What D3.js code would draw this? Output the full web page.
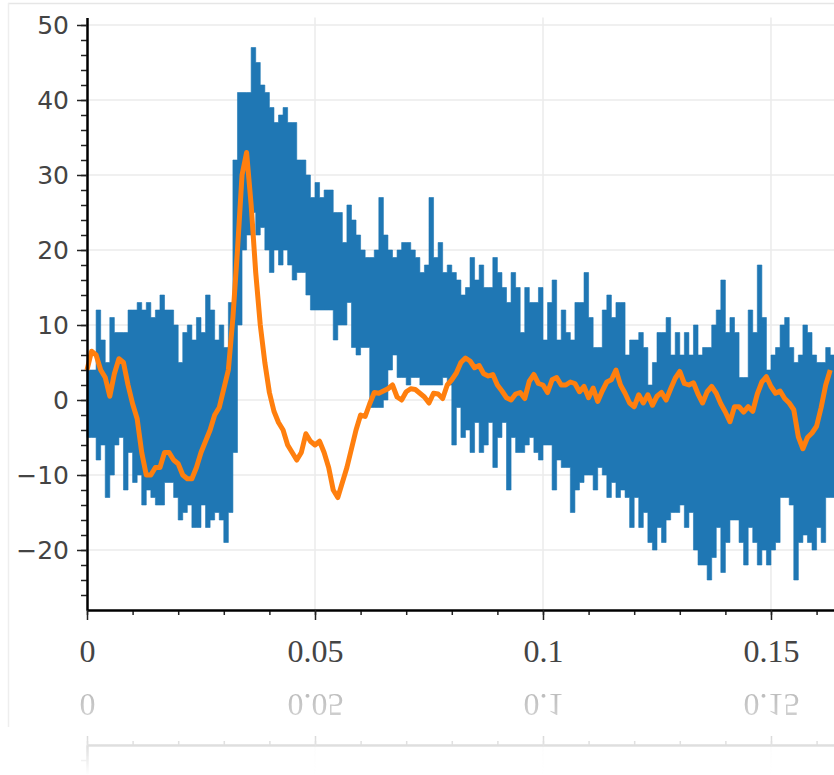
<!DOCTYPE html>
<html>
<head>
<meta charset="utf-8">
<script src="https://cdn.jsdelivr.net/npm/d3@7"></script>
<style>
  body { margin: 0; background: #fff; overflow: hidden; }
  svg { display: block; }
</style>
</head>
<body>
<svg id="vis" width="834" height="775"></svg>
<script>
// sample spacing of the signal (seconds)
const dt = 0.001;

// raw signal, drawn as its upper / lower envelope per sample
const blueHigh = [
  4, 4, 12, 8, 5, 11, 9, 9, 9, 12, 12, 13, 12, 13, 11, 12, 14, 12, 12, 10,
  5, 9, 10, 8, 11, 9, 14, 12, 8, 10, 7, 13, 32, 41, 41, 41, 47, 45, 42, 41,
  39, 37, 38, 39, 37, 37, 32, 32, 30, 27, 29, 27, 28, 28, 25, 25, 21, 26, 24, 22,
  20, 19, 19, 20, 27, 22, 20, 19, 20, 21, 21, 20, 19, 17, 18, 27, 19, 21, 17, 18,
  17, 16, 14, 15, 19, 16, 18, 15, 15, 19, 17, 15, 13, 17, 15, 9, 15, 13, 13, 15,
  8, 13, 16, 8, 12, 9, 8, 13, 13, 17, 11, 7, 7, 12, 14, 11, 13, 13, 6, 8,
  8, 9, 7, 2, 5, 9, 9, 11, 6, 9, 6, 9, 6, 10, 6, 7, 7, 10, 12, 16,
  9, 11, 9, 3, 3, 12, 9, 18, 11, 4, 6, 7, 10, 11, 7, 5, 6, 10, 9, 6,
  5, 5, 7, 6
];
const blueLow = [
  -5, -5, -8, -6, -13, -10, -6, -5, -12, -7, -11, -10, -14, -12, -13, -14, -14, -11, -11, -13,
  -16, -15, -14, -17, -17, -14, -17, -16, -15, -16, -19, -15, -7, 10, 20, 22, 25, 22, 23, 20,
  17, 20, 18, 20, 18, 16, 17, 17, 14, 12, 12, 12, 12, 12, 8, 10, 10, 13, 7, 6,
  7, 7, -1, -1, -1, 0, 4, 6, 3, 3, 2, 3, 3, 2, 2, 2, 2, 2, 3, 2,
  -6, -1, -5, -4, -7, -3, -7, -6, -3, -9, -5, -3, -12, -5, -7, -7, -6, -5, -7, -8,
  -6, -6, -12, -8, -9, -9, -15, -12, -11, -10, -10, -12, -9, -10, -13, -11, -13, -12, -13, -17,
  -13, -17, -15, -19, -20, -17, -19, -16, -15, -15, -14, -17, -15, -20, -22, -22, -24, -21, -17, -23,
  -19, -16, -16, -19, -22, -17, -19, -22, -20, -22, -20, -19, -13, -13, -14, -24, -19, -18, -19, -20,
  -17, -19, -13, -13
];

// smoothed signal
const orangeVals = [
  4, 6.5, 6, 4, 3, 0.5, 3.5, 5.5, 5, 2, -0.5, -2.5, -7, -10, -10, -9, -9, -7, -7, -8,
  -8.5, -10, -10.5, -10.5, -9, -7, -5.5, -4, -2, -1, 1.5, 4, 11, 20, 30, 33, 26, 17, 10, 5,
  1, -1.5, -3, -4, -6, -7, -8, -7, -4.5, -5.5, -6, -5.5, -7, -9, -12, -13, -11, -9, -6.5, -4,
  -2, -2.2, -0.5, 1, 0.9, 1.2, 1.5, 2, 0.4, 0, 1.1, 1.5, 1.4, 0.9, 0.4, -0.4, 0.9, 0.8, 0.2, 2,
  2.7, 3.6, 5, 5.6, 5.2, 4.3, 4.6, 3.5, 3.2, 3.4, 2, 1.2, 0.3, 0, 0.8, 1, 0.2, 2.5, 3.4, 2.2,
  2, 1, 2.7, 3, 2, 2, 2.4, 2.2, 1.1, 1.8, 0.3, 1.6, -0.2, 1.2, 2.4, 2.7, 4, 2, 0.9, -0.4,
  -0.9, 0.7, -0.4, 0.7, -0.7, 0.5, 1, 0, 1.5, 2.9, 3.8, 2.2, 2, 2.3, 0.8, -0.4, 1.1, 1.8, 0.9, -0.5,
  -1.6, -2.9, -0.9, -0.9, -1.6, -0.9, -1.5, 0.8, 2.4, 3.1, 1.8, 0.9, 1.2, 0.2, -0.4, -1.3, -4.9, -6.5, -5, -4.4,
  -3.5, -1, 2, 4
];

// ticks
const yMajor = [-20, -10, 0, 10, 20, 30, 40, 50];
const yLabels = ['\u221220', '\u221210', '0', '10', '20', '30', '40', '50'];
const yMinor = d3.range(-26, 51, 2);
const xMajor = [0, 0.05, 0.1, 0.15];
const xLabels = ['0', '0.05', '0.1', '0.15'];
const xMinor = d3.range(0, 0.1635, 0.01);

const svg = d3.select('#vis');
const plotLeft = 87, plotRight = 834, plotTop = 17.5, plotBottom = 610;

const x = d3.scaleLinear().domain([0, 0.16382]).range([plotLeft, plotRight]);
const y = d3.scaleLinear().domain([-28, 51]).range([plotBottom, plotTop]);

// reflection fade
const defs = svg.append('defs');
const grad = defs.append('linearGradient')
  .attr('id', 'fadeGrad')
  .attr('gradientUnits', 'userSpaceOnUse')
  .attr('x1', 0).attr('x2', 0).attr('y1', 678).attr('y2', 775);
grad.append('stop').attr('offset', 0).attr('stop-color', '#fff').attr('stop-opacity', 0.42);
grad.append('stop').attr('offset', 1).attr('stop-color', '#fff').attr('stop-opacity', 0);
defs.append('mask')
  .attr('id', 'fade')
  .attr('maskUnits', 'userSpaceOnUse')
  .attr('x', 0).attr('y', 0).attr('width', 834).attr('height', 775)
  .append('rect')
  .attr('x', 0).attr('y', 678).attr('width', 834).attr('height', 97)
  .attr('fill', 'url(#fadeGrad)');

// card frame
svg.append('line')
  .attr('x1', 8).attr('x2', 834).attr('y1', 3.5).attr('y2', 3.5)
  .attr('stroke', '#e6e6e6').attr('stroke-width', 1.5);
svg.append('line')
  .attr('x1', 8.5).attr('x2', 8.5).attr('y1', 3).attr('y2', 727)
  .attr('stroke', '#eeeeee').attr('stroke-width', 1.5);

const chart = svg.append('g').attr('id', 'chart');

// grid
chart.append('g')
  .selectAll('line')
  .data(yMajor)
  .join('line')
  .attr('x1', plotLeft).attr('x2', plotRight)
  .attr('y1', (d) => y(d)).attr('y2', (d) => y(d))
  .attr('stroke', '#ebebeb').attr('stroke-width', 1.5);
chart.append('g')
  .selectAll('line')
  .data(xMajor.slice(1))
  .join('line')
  .attr('x1', (d) => x(d)).attr('x2', (d) => x(d))
  .attr('y1', plotTop).attr('y2', plotBottom)
  .attr('stroke', '#ebebeb').attr('stroke-width', 1.5);

// blue band
let band = blueHigh.map((h, i) => ({ t: i * dt, hi: h, lo: blueLow[i] }));
band.push({ t: blueHigh.length * dt, hi: blueHigh[blueHigh.length - 1], lo: blueLow[blueLow.length - 1] });

chart.append('path')
  .datum(band)
  .attr('fill', '#1f77b4')
  .attr('stroke', '#1f77b4')
  .attr('stroke-width', 0.6)
  .attr('d', d3.area()
    .curve(d3.curveStepAfter)
    .x((d) => x(d.t))
    .y0((d) => y(d.lo))
    .y1((d) => y(d.hi)));

// orange line
chart.append('path')
  .datum(orangeVals.map((v, i) => ({ t: i * dt, v: v })))
  .attr('fill', 'none')
  .attr('stroke', '#ff7f0e')
  .attr('stroke-width', 5)
  .attr('stroke-linejoin', 'round')
  .attr('d', d3.line().x((d) => x(d.t)).y((d) => y(d.v)));

// axes
const yAxisMinor = chart.append('g')
  .attr('transform', 'translate(' + plotLeft + ',0)')
  .call(d3.axisLeft(y).tickValues(yMinor).tickSize(6).tickSizeOuter(0).tickFormat(''));
const yAxis = chart.append('g')
  .attr('transform', 'translate(' + plotLeft + ',0)')
  .call(d3.axisLeft(y).tickValues(yMajor).tickSize(10).tickSizeOuter(0).tickPadding(8)
    .tickFormat((d, i) => yLabels[i]));
const xAxisMinor = chart.append('g')
  .attr('transform', 'translate(0,' + plotBottom + ')')
  .call(d3.axisBottom(x).tickValues(xMinor).tickSize(5).tickSizeOuter(0).tickFormat(''));
const xAxis = chart.append('g')
  .attr('transform', 'translate(0,' + plotBottom + ')')
  .call(d3.axisBottom(x).tickValues(xMajor).tickSize(10).tickSizeOuter(0)
    .tickFormat((d, i) => xLabels[i]));

for (const g of [yAxisMinor, yAxis, xAxisMinor, xAxis]) {
  g.select('.domain').attr('stroke', '#000').attr('stroke-width', 2);
  g.selectAll('.tick line').attr('stroke', '#222').attr('stroke-width', 1.5);
}
yAxis.selectAll('.tick text')
  .attr('fill', '#444')
  .style('font-family', '"DejaVu Sans", sans-serif')
  .style('font-size', '25px');
xAxis.selectAll('.tick text')
  .attr('fill', '#444')
  .attr('y', 52)
  .attr('dy', 0)
  .style('font-family', '"Liberation Serif", serif')
  .style('font-size', '32px');

// mirrored copy under the chart
svg.append('g')
  .attr('mask', 'url(#fade)')
  .append('use')
  .attr('href', '#chart')
  .attr('transform', 'translate(0,1356) scale(1,-1)');
</script>
</body>
</html>
